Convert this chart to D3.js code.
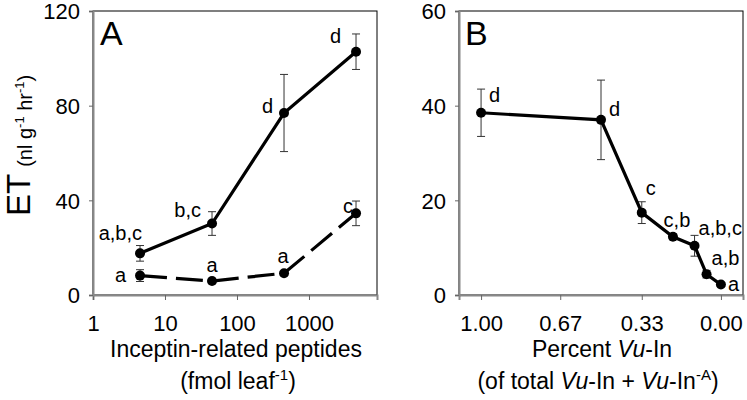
<!DOCTYPE html>
<html>
<head>
<meta charset="utf-8">
<script src="https://cdn.jsdelivr.net/npm/d3@7"></script>
<style>
  body { margin: 0; background: #fff; }
  svg { font-family: "Liberation Sans", Arial, sans-serif; }
</style>
</head>
<body>
<div id="chart"></div>
<script>
// panel A data: dose (fmol/leaf), two series
const doseA = [4.5, 45, 450, 4500];
const solidMean = [17.6, 30.2, 76.9, 102.8];
const solidErr = [3.3, 5.0, 16.3, 7.5];
const solidLetters = ["a,b,c", "b,c", "d", "d"];
const dashMean = [8.2, 5.9, 9.2, 34.5];
const dashErr = [2.5, 0.8, 0.8, 5.2];
const dashLetters = ["a", "a", "a", "c"];
const ticksA = [1, 10, 100, 1000];
const yTicksA = [0, 40, 80, 120];

// panel B data: fraction Vu-In
const fracB = [1.0, 0.5, 0.33, 0.2, 0.11, 0.06, 0.0];
const meanB = [38.5, 37.0, 17.4, 12.3, 10.4, 4.4, 2.2];
const errB = [5.0, 8.4, 2.3, 0.6, 2.2, 0.8, 0.4];
const lettersB = ["d", "d", "c", "c,b", "a,b,c", "a,b", "a"];
const ticksB = [1.00, 0.67, 0.33, 0.00];
const yTicksB = [0, 20, 40, 60];

// letter offsets (px, relative to the point) - layout only
const offSolid = [[2, -13, "end"], [-11, -7, "end"], [-11, 0, "end"], [-15, -9, "end"]];
const offDash = [[-14, 6, "end"], [0, -9, "middle"], [-1, -10, "middle"], [-3, 0, "end"]];
const offB = [[8, -11, "start"], [8, -4, "start"], [4, -18, "start"], [4, -10, "middle"], [4, -11, "start"], [5, -9, "start"], [7, 6, "start"]];

const svg = d3.select("#chart").append("svg")
  .attr("width", 747).attr("height", 400);

const plotTop = 11, plotBottom = 295;

function frame(x0, x1) {
  svg.append("rect")
    .attr("x", x0).attr("y", plotTop)
    .attr("width", x1 - x0).attr("height", plotBottom - plotTop)
    .attr("fill", "none").attr("stroke", "#000").attr("stroke-width", 1);
}

function errorBars(g, xs, ys, errs, x, y) {
  xs.forEach(function(v, i) {
    const cx = x(v);
    const y1 = y(ys[i] + errs[i]), y2 = y(ys[i] - errs[i]);
    g.append("line").attr("x1", cx).attr("x2", cx).attr("y1", y1).attr("y2", y2)
      .attr("stroke", "#333").attr("stroke-width", 1);
    [y1, y2].forEach(function(yy) {
      g.append("line").attr("x1", cx - 4).attr("x2", cx + 4).attr("y1", yy).attr("y2", yy)
        .attr("stroke", "#333").attr("stroke-width", 1);
    });
  });
}

function series(g, xs, ys, x, y, dash) {
  const line = d3.line().x(function(d) { return x(d[0]); }).y(function(d) { return y(d[1]); });
  const pts = xs.map(function(v, i) { return [v, ys[i]]; });
  g.append("path").datum(pts)
    .attr("d", line)
    .attr("fill", "none").attr("stroke", "#000").attr("stroke-width", 3.2)
    .attr("stroke-dasharray", dash ? "27,9" : null);
  g.selectAll(null).data(pts).join("circle")
    .attr("cx", function(d) { return x(d[0]); })
    .attr("cy", function(d) { return y(d[1]); })
    .attr("r", 5).attr("fill", "#000");
}

function letters(g, xs, ys, labels, offs, x, y) {
  labels.forEach(function(t, i) {
    g.append("text")
      .attr("x", x(xs[i]) + offs[i][0])
      .attr("y", y(ys[i]) + offs[i][1])
      .attr("text-anchor", offs[i][2])
      .attr("font-size", 20)
      .text(t);
  });
}

function axes(x, y, xTicks, yTicks, xfmt) {
  const gx = svg.append("g").attr("transform", `translate(0,${plotBottom})`)
    .call(d3.axisBottom(x).tickValues(xTicks).tickFormat(xfmt).tickSize(5).tickPadding(15));
  const gy = svg.append("g").attr("transform", `translate(${x.range()[0]},0)`)
    .call(d3.axisLeft(y).tickValues(yTicks).tickSize(4).tickPadding(9));
  [gx, gy].forEach(function(g) {
    g.select(".domain").attr("stroke", "#888").attr("stroke-width", 2);
    g.selectAll(".tick line").attr("stroke", "#666");
    g.selectAll("text").attr("font-size", 22).attr("fill", "#000")
      .attr("font-family", "Liberation Sans, Arial, sans-serif");
  });
  gy.selectAll("text").attr("dy", "0.36em");
}

// ---------- Panel A ----------
const xA = d3.scaleLog().domain([1, 8800]).range([93, 377]);
const yA = d3.scaleLinear().domain([0, 120]).range([plotBottom, plotTop]);
frame(93, 377);
axes(xA, yA, ticksA, yTicksA, d3.format("d"));
const gA = svg.append("g");
errorBars(gA, doseA, solidMean, solidErr, xA, yA);
errorBars(gA, doseA, dashMean, dashErr, xA, yA);
series(gA, doseA, dashMean, xA, yA, true);
series(gA, doseA, solidMean, xA, yA, false);
letters(gA, doseA, solidMean, solidLetters, offSolid, xA, yA);
letters(gA, doseA, dashMean, dashLetters, offDash, xA, yA);
svg.append("text").attr("x", 100).attr("y", 45).attr("font-size", 34).text("A");

// ---------- Panel B ----------
const xB = d3.scaleLinear().domain([1.092, -0.092]).range([459, 743]);
const yB = d3.scaleLinear().domain([0, 60]).range([plotBottom, plotTop]);
frame(459, 743);
axes(xB, yB, ticksB, yTicksB, d3.format(".2f"));
const gB = svg.append("g");
errorBars(gB, fracB, meanB, errB, xB, yB);
series(gB, fracB, meanB, xB, yB, false);
letters(gB, fracB, meanB, lettersB, offB, xB, yB);
svg.append("text").attr("x", 465).attr("y", 45).attr("font-size", 34).text("B");

// ---------- axis titles ----------
const yTitle = svg.append("text")
  .attr("transform", "translate(30,216) rotate(-90)")
  .attr("text-anchor", "start");
yTitle.append("tspan").attr("font-size", 33).text("ET");
const unit = yTitle.append("tspan").attr("font-size", 20).attr("dx", 7).attr("dy", 2);
unit.append("tspan").text("(nl g");
unit.append("tspan").attr("font-size", 13).attr("dy", -8).text("-1");
unit.append("tspan").attr("dy", 8).text(" hr");
unit.append("tspan").attr("font-size", 13).attr("dy", -8).text("-1");
unit.append("tspan").attr("dy", 8).text(")");

const tA = svg.append("text").attr("text-anchor", "middle").attr("font-size", 23);
tA.append("tspan").attr("x", 236).attr("y", 357).text("Inceptin-related peptides");
const tA2 = tA.append("tspan").attr("x", 238).attr("y", 389);
tA2.append("tspan").text("(fmol leaf");
tA2.append("tspan").attr("font-size", 15).attr("dy", -9).text("-1");
tA2.append("tspan").attr("dy", 9).text(")");

const tB = svg.append("text").attr("text-anchor", "middle").attr("font-size", 23);
const tB1 = tB.append("tspan").attr("x", 602).attr("y", 357);
tB1.append("tspan").text("Percent ");
tB1.append("tspan").attr("font-style", "italic").text("Vu");
tB1.append("tspan").text("-In");
const tB2 = tB.append("tspan").attr("x", 598).attr("y", 389);
tB2.append("tspan").text("(of total ");
tB2.append("tspan").attr("font-style", "italic").text("Vu");
tB2.append("tspan").text("-In + ");
tB2.append("tspan").attr("font-style", "italic").text("Vu");
tB2.append("tspan").text("-In");
tB2.append("tspan").attr("font-size", 15).attr("dy", -9).text("-A");
tB2.append("tspan").attr("dy", 9).text(")");
</script>
</body>
</html>
